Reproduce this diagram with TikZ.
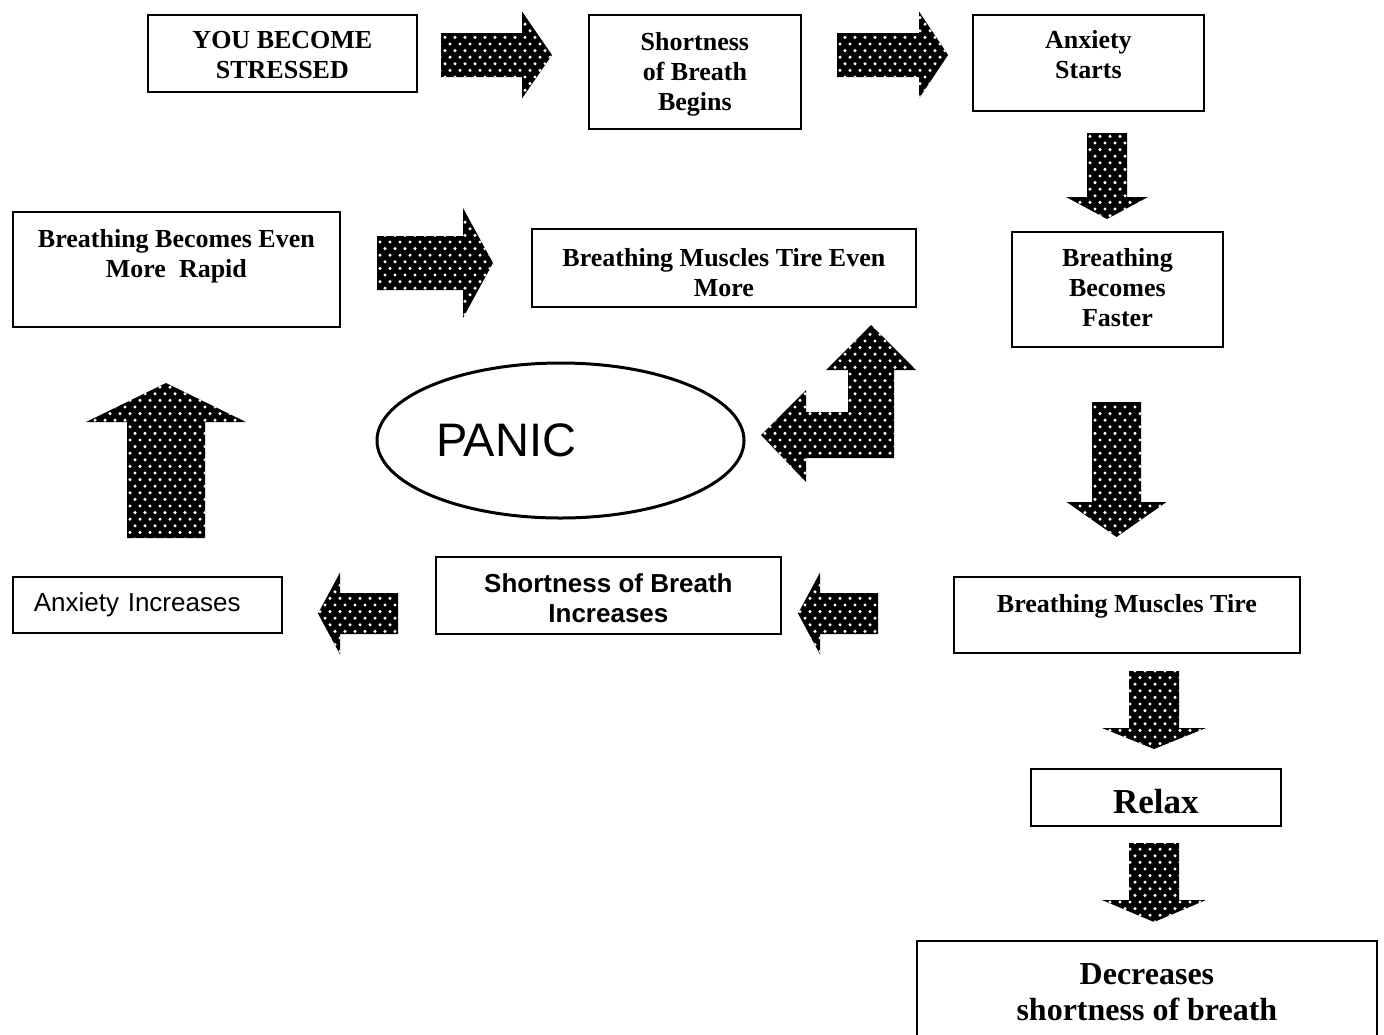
\documentclass[tikz,border=0pt]{standalone}
\usepackage{fontspec}
\setmainfont{Liberation Serif}
\setsansfont{Liberation Sans}
\usetikzlibrary{shapes.geometric,patterns}

% white dots on the black arrows
\pgfdeclarepatternformonly{whitedots}{\pgfqpoint{-1pt}{-1pt}}{\pgfqpoint{6pt}{7.6pt}}{\pgfqpoint{5pt}{6.6pt}}{%
  \pgfpathcircle{\pgfqpoint{0pt}{0pt}}{.85pt}%
  \pgfpathcircle{\pgfqpoint{2.5pt}{3.3pt}}{.85pt}%
  \pgfusepath{fill}}

\tikzset{
  box/.style={draw, line width=0.9pt, anchor=north west, align=center,
    inner sep=0pt, text height=9pt, font=\bfseries\fontsize{13}{15}\selectfont},
  sansbox/.style={box, text height=9.5pt, font=\sffamily\fontsize{13}{15}\selectfont},
  panic/.style={draw, ellipse, line width=1.5pt, minimum width=183.5pt,
    minimum height=77.5pt, text width=124.5pt, align=left, inner sep=0pt,
    font=\sffamily\fontsize{23.5}{28}\selectfont},
  dotfill/.style={fill=black, postaction={pattern=whitedots, pattern color=white}},
}

% block arrow: tail, angle, length, shaft half width, head half width, head length
\newcommand{\fatarrow}[6]{%
  \path[dotfill, shift={#1}, rotate=#2]
    (0,-#4) -- ({#3-#6},-#4) -- ({#3-#6},-#5) -- (#3,0)
    -- ({#3-#6},#5) -- ({#3-#6},#4) -- (0,#4) -- cycle;}

\begin{document}
\begin{tikzpicture}[x=0.5pt, y=-0.5pt]
  \useasboundingbox (0,0) rectangle (1384,1034);
  \clip (0,0) rectangle (1384,1034);

  % top row
  \node[box, minimum width=134.5pt, minimum height=38.5pt, text height=25.5pt, text depth=0.4pt]
    (stressed) at (147,14) {YOU BECOME\\STRESSED};
  \node[box, minimum width=106pt, minimum height=57pt, text height=39pt, text depth=0.4pt]
    (sobbegins) at (588,14) {Shortness\\of Breath\\Begins};
  \node[box, minimum width=115.5pt, minimum height=48pt, text height=24pt, text depth=8.4pt]
    (anxstarts) at (972,14) {Anxiety\\Starts};

  % middle
  \node[box, minimum width=163.5pt, minimum height=57.5pt, text height=24pt, text depth=15.9pt]
    (rapid) at (12,211) {Breathing Becomes Even\\More~~Rapid};
  \node[box, minimum width=192pt, minimum height=39pt, text height=29pt, text depth=0.4pt]
    (tiremore) at (531,228) {Breathing Muscles Tire Even\\More};
  \node[box, minimum width=105.5pt, minimum height=57.5pt, text height=39pt, text depth=1.9pt]
    (faster) at (1011,231) {Breathing\\Becomes\\Faster};
  \node[panic] (panicnode) at (560.5,440.5) {PANIC};

  % lower row
  \node[sansbox, minimum width=134.5pt, minimum height=28pt, text depth=3.2pt,
    inner xsep=10.5pt, text width=113.5pt, align=left]
    (anxincr) at (12,576) {Anxiety Increases};
  \node[sansbox, font=\sffamily\bfseries\fontsize{13}{15}\selectfont,
    minimum width=172.5pt, minimum height=38.5pt, text height=27.2pt, text depth=0.4pt]
    (sobincr) at (435,556) {Shortness of Breath\\Increases};
  \node[box, minimum width=173pt, minimum height=38pt, text depth=11.4pt]
    (tire) at (953,576) {Breathing Muscles Tire};

  % right column
  \node[box, font=\bfseries\fontsize{17.5}{20}\selectfont, text height=16pt,
    text depth=0pt, minimum width=125pt, minimum height=28.5pt]
    (relax) at (1030,768) {Relax};
  \node[box, font=\bfseries\fontsize{16}{18}\selectfont, text height=29pt,
    text depth=4.4pt, minimum width=230pt, minimum height=55pt]
    (decreases) at (916,940) {Decreases\\shortness of breath};

  % arrows
  \fatarrow{(441,55)}{0}{111}{22}{43.5}{30}
  \fatarrow{(837,55)}{0}{111}{22}{43.5}{29}
  \fatarrow{(1107,133)}{-90}{86}{20}{41}{22}
  \fatarrow{(1116.5,402)}{-90}{135}{24.5}{50}{35}
  \fatarrow{(377,263)}{0}{116}{27}{55}{30}
  \fatarrow{(166,538)}{90}{155}{39}{80}{39}
  \fatarrow{(398,613.5)}{180}{80}{20.5}{41}{22}
  \fatarrow{(878,613.5)}{180}{80}{20.5}{41}{22}
  \fatarrow{(1154,671)}{-90}{78}{25}{52}{21}
  \fatarrow{(1154,843)}{-90}{79}{25}{52}{22}

  % bent arrow next to the ellipse
  \path[dotfill] (871,325) -- (916,370) -- (894,370) -- (894,458) -- (806,458)
    -- (806,482) -- (761,435) -- (806,390) -- (806,412) -- (848,412)
    -- (848,370) -- (826,370) -- cycle;
\end{tikzpicture}
\end{document}
